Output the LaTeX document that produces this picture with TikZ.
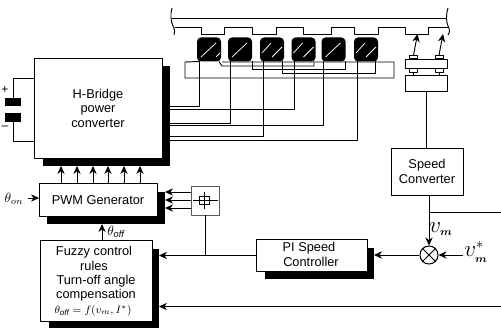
\documentclass[tikz,border=0pt]{standalone}
\usepackage{amsmath,amssymb}
\usepackage{xcolor}
\usepackage{fontspec}
\setmainfont{Liberation Sans}
\usepackage{tikz}
\usetikzlibrary{arrows.meta,calc}
\tikzset{
  boxsize/.style 2 args={minimum width=#1*0.75pt,minimum height=#2*0.75pt,inner sep=0pt,outer sep=0pt},
  block/.style={draw,fill=white,line width=0.7pt,align=center,font=\fontsize{9.6}{10.9}\selectfont},
  shade/.style={fill=black,draw=none},
  pole/.style={fill=black,rounded corners=3pt,boxsize={24}{24}},
  wire/.style={line width=0.7pt},
  arr/.style={line width=0.7pt,-{Stealth[length=6pt,width=5.5pt]}},
  slash/.style={white,line width=0.55pt}
}
\begin{document}
\begin{tikzpicture}[x=0.75pt,y=-0.75pt,line join=round]
  \useasboundingbox (0,0) rectangle (501,328);
  % shadows
  \node[shade,boxsize={127}{100}] (bridgeS) at (106.5,116) {};
  \node[shade,boxsize={118}{32}] (pwmS) at (106,208) {};
  \node[shade,boxsize={110}{79}] (fuzzyS) at (104,288.5) {};
  \node[shade,boxsize={109}{31}] (piS) at (319.5,263.5) {};
  % blocks
  \node[block,boxsize={128}{100}] (bridge) at (98,108) {H-Bridge\\power\\converter};
  \node[block,boxsize={118}{33}] (pwm) at (98,200) {PWM Generator};
  \node[block,boxsize={112}{81}] (fuzzy) at (96,280.5) {};
  \node[block,boxsize={111}{32}] (pi) at (311.5,255.5) {};
  \node[block,boxsize={72}{47}] (conv) at (427,171.5) {Speed\\Converter};
  \node[draw=black!65,line width=0.7pt,boxsize={28}{29}] (hyst) at (205,200.5) {};
  \node[draw,line width=0.8pt,circle,minimum size=13.5pt,inner sep=0pt] (sum) at (429,255) {};
  \draw[wire] (sum.45) -- (sum.225) (sum.135) -- (sum.315);
  % block texts
  \node[font=\fontsize{9.6}{10.9}\selectfont] (fz1) at (94,252) {Fuzzy control};
  \node[font=\fontsize{9.6}{10.9}\selectfont] (fz2) at (94,266) {rules};
  \node[font=\fontsize{9.6}{10.9}\selectfont] (fz3) at (96,281) {Turn-off angle};
  \node[font=\fontsize{9.6}{10.9}\selectfont] (fz4) at (96,295) {compensation};
  \node[font=\fontsize{8}{10}\selectfont] (fz5) at (93,311) {$\theta_{\mathit{off}}=f(v_m,I^{*})$};
  \node[font=\fontsize{9.6}{10.9}\selectfont] (pi1) at (309,248) {PI Speed};
  \node[font=\fontsize{9.6}{10.9}\selectfont] (pi2) at (311,262) {Controller};
  % labels
  \node[font=\fontsize{10}{11}\selectfont] (thon) at (14,199) {$\theta_{on}$};
  \node[font=\fontsize{10}{11}\selectfont] (thoff) at (116,232) {$\theta_{\mathit{off}}$};
  \node[font=\fontsize{16}{17}\selectfont] (vm) at (441,229) {$v_{\scriptscriptstyle\boldsymbol{m}}$};
  \node[font=\fontsize{16}{17}\selectfont] (vref) at (476,252) {$v_{\scriptscriptstyle\boldsymbol{m}}^{*}$};
  \node[font=\fontsize{9}{10}\selectfont] (plus) at (5,90) {+};
  \node[font=\fontsize{9}{10}\selectfont] (minus) at (5,128) {--};
  % rotor
  \draw[wire] (172,8) .. controls (170,14) and (171,22) .. (173,26) .. controls (175,30) and (175,32) .. (174,35);
  \draw[wire] (448,8) .. controls (446,14) and (446,22) .. (448,26) .. controls (450,30) and (450,32) .. (448,35);
  \draw[wire] (172,18) -- (447,18);
  \draw[wire] (175,27) -- (201,27) -- (201,34) -- (224,34) -- (224,27) -- (252,27) -- (252,34) -- (276,34) -- (276,27)
    -- (303,27) -- (303,34) -- (331,34) -- (331,27) -- (354,27) -- (354,34) -- (378,34) -- (378,27) -- (405,27)
    -- (405,34) -- (428,34) -- (428,27) -- (449,27);
  % stator poles
  \foreach \n/\c in {1/209,2/240,3/272,4/303.5,5/333.5,6/366}
    \node[pole] (p\n) at (\c,49.5) {};
  \foreach \c in {209,240,333.5}
    \draw[slash] (\c-8,57) -- (\c+7,43);
  \foreach \c in {272,303.5,366}
    \draw[slash] (\c-10,53) -- (\c-1,43) (\c,57) -- (\c+10,47);
  \draw[slash] (216,57) -- (220,53);
  % stator yoke
  \draw[wire] (p1.south -| 199,0) -- (185,62) -- (185,78) -- (394,78) -- (394,62) -- (222,62);
  % windings
  \foreach \n/\x/\y in {1/199/106,2/230.5/123,3/263/136,4/294/109,5/323/125,6/357/140}
    \draw[wire] (p\n.south -| \x,0) |- (bridgeS.east |- 0,\y);
  \draw[wire] (p1.south -| 219,0) -- (222,66) -| (p4.south -| 314,0);
  \draw[wire] (p2.south -| 252,0) |- (0,69 -| 345,0) -- (p5.south -| 345,0);
  \draw[wire] (p3.south -| 282,0) |- (0,73 -| 375,0) -- (p6.south -| 375,0);
  % sensor
  \node[draw,fill=white,line width=0.7pt,boxsize={42}{9}] (plate) at (426,63.5) {};
  \node[draw,fill=white,line width=0.7pt,boxsize={42}{16}] (sens) at (426,83) {};
  \foreach \n/\c in {a/413.5,b/439} {
    \node[draw,line width=0.7pt,boxsize={8}{3.5}] (up\n) at (\c,57) {};
    \node[draw,line width=0.7pt,boxsize={8}{4}] (lo\n) at (\c,70) {};
    \draw[wire] (lo\n.south) -- (lo\n.south |- sens.north);
  }
  \draw[arr] (upa.north) -- (417.5,34);
  \draw[arr] (upb.north) -- (443,34);
  % dc source
  \node[fill=black,boxsize={16}{8}] (capA) at (13,102) {};
  \node[fill=black,boxsize={16}{9}] (capB) at (13,117.5) {};
  \draw[wire] (capA.north) |- (bridge.west |- 0,78);
  \draw[wire] (capB.south) |- (bridge.west |- 0,141);
  % connectors
  \foreach \x in {61,77,93,108,124,140}
    \draw[arr] (pwm.north -| \x,0) -- (bridgeS.south -| \x,0);
  \foreach \y in {192,200,208}
    \draw[arr] (hyst.west |- 0,\y) -- (pwmS.east |- 0,\y);
  \draw[arr] (28,198) -- (pwm.west |- 0,198);
  \draw[arr] (fuzzy.north -| 102,0) -- (pwmS.south -| 102,0);
  \draw[arr] (pi.west) -- (fuzzyS.east |- pi.west);
  \draw[wire] (hyst.south) -- (hyst.south |- pi.west);
  \draw[arr] (501,306.5) -- (fuzzyS.east |- 0,306.5);
  \draw[arr] (sum.west) -- (piS.east |- sum.west);
  \draw[arr] (463,255) -- (sum.east);
  \draw[arr] (conv.south -| sum.north) -- (sum.north);
  \draw[wire] (sum.north |- 0,212) -- (501,212);
  \draw[wire] (sens.south) -- (conv.north -| sens.south);
  % hysteresis symbol
  \draw[wire] (193,200) -- (218,200) (204,192) -- (204,209);
  \draw[wire] (199,196) rectangle (209,204);
\end{tikzpicture}
\end{document}
